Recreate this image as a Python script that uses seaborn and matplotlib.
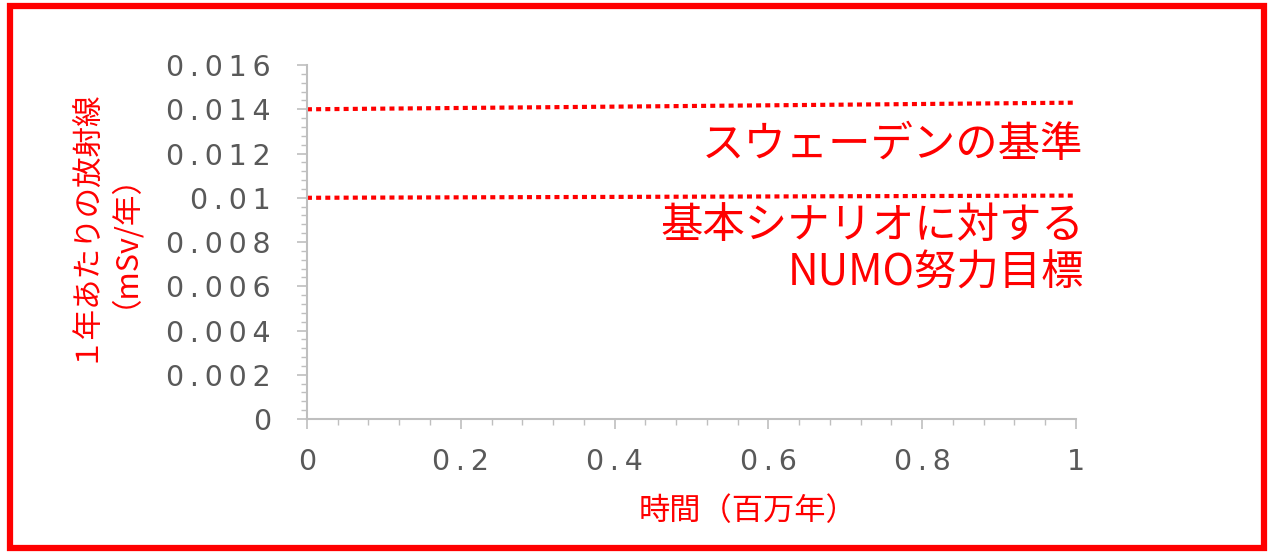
import numpy as np
import pandas as pd
import matplotlib
matplotlib.use("Agg")
import matplotlib.pyplot as plt
from matplotlib.patches import Rectangle
from matplotlib.ticker import MultipleLocator, FuncFormatter
import seaborn as sns

# data
years = [0.0, 1.0]
sweden_limit = [0.0140, 0.0143]
numo_target = [0.0100, 0.0101]
labels = ["スウェーデンの基準", "基本シナリオに対する\nNUMO努力目標"]

df = pd.DataFrame({
    "time": years * 2,
    "dose": sweden_limit + numo_target,
    "line": [labels[0]] * 2 + [labels[1]] * 2,
})

sns.set_style("white")
plt.rcParams['font.family'] = ['Noto Sans CJK JP', 'DejaVu Sans']

fig = plt.figure(figsize=(12.7, 5.55), dpi=100)
ax = fig.add_axes([0.2417, 0.245, 0.6055, 0.6378])

sns.lineplot(data=df, x="time", y="dose", hue="line",
             palette=["#ff0000", "#ff0000"], linewidth=3,
             legend=False, ax=ax)
for ln in ax.get_lines():
    ln.set_linestyle((0, (1.2, 1.0)))
    ln.set_dash_capstyle("butt")

ax.set_xlim(0, 1)
ax.set_ylim(0, 0.016)
ax.xaxis.set_major_locator(MultipleLocator(0.2))
ax.xaxis.set_minor_locator(MultipleLocator(0.04))
ax.yaxis.set_major_locator(MultipleLocator(0.002))
ax.yaxis.set_minor_locator(MultipleLocator(0.0004))

# wide, spaced numbers like the original Verdana labels
def fmt(v, pos):
    s = f"{v:.3f}".rstrip("0").rstrip(".")
    s = s if s else "0"
    return "\u2009".join(s)

ax.xaxis.set_major_formatter(FuncFormatter(fmt))
ax.yaxis.set_major_formatter(FuncFormatter(fmt))

grey = "#bfbfbf"
for side in ["top", "right"]:
    ax.spines[side].set_visible(False)
for side in ["left", "bottom"]:
    ax.spines[side].set_color(grey)
    ax.spines[side].set_linewidth(1.5)

ax.tick_params(axis="both", which="both", bottom=True, left=True,
               direction="out", color=grey)
ax.tick_params(axis="both", which="major", length=7, width=1.2,
               labelsize=20.5, labelcolor="#595959",
               labelfontfamily="DejaVu Sans")
ax.tick_params(axis="both", which="minor", length=4.5, width=1.0)
ax.tick_params(axis="x", which="major", pad=14)
ax.tick_params(axis="y", which="major", pad=19)

ax.set_xlabel("")
ax.set_ylabel("")
fig.text(748 / 1270, 1 - 511 / 555, "時間（百万年）", color="#ff0000",
         fontsize=22.5, ha="center", va="center")
fig.text(96 / 1270, 1 - 225 / 555, "１年あたりの放射線\n（mSv/年）",
         color="#ff0000", fontsize=22, rotation=90, ha="center",
         va="center", multialignment="center", linespacing=0.78)

ax.text(1.01, 0.0124, labels[0], ha="right", va="center",
        color="#ff0000", fontsize=30.5)
ax.text(1.011, 0.00765, labels[1], ha="right", va="center",
        color="#ff0000", fontsize=30.5, linespacing=1.1)

fig.patches.append(Rectangle((0.0075, 0.012), 0.9875, 0.978,
                             transform=fig.transFigure, fill=False,
                             edgecolor="#ff0000", linewidth=4.5))

fig.savefig("out.png", dpi=100, facecolor="white")
